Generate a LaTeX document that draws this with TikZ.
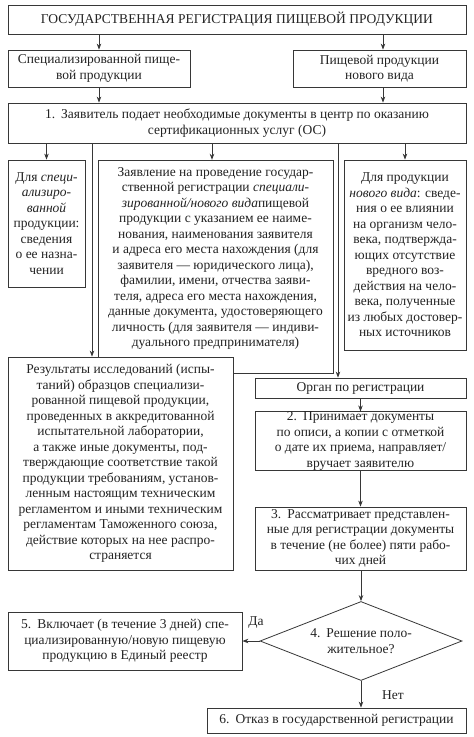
\documentclass[tikz,border=0pt]{standalone}
\usepackage{fontspec}
\setmainfont{Liberation Serif}
\usetikzlibrary{arrows.meta,shapes.geometric}
\definecolor{linec}{RGB}{55,55,55}
\definecolor{txtc}{RGB}{35,35,35}
\newcommand{\txtfont}{\fontsize{13.5}{15.5}\selectfont}
\begin{document}
\begin{tikzpicture}[x=1pt,y=-1pt,
  box/.style={draw=linec, line width=0.8pt, align=center, inner sep=0pt, text=txtc, font=\txtfont},
  plain/.style={align=center, inner sep=0pt, text=txtc, font=\txtfont},
  arr/.style={draw=linec, line width=0.8pt, -{Stealth[length=6pt,width=4.5pt]}},
  ln/.style={draw=linec, line width=0.8pt}]
\useasboundingbox (0,0) rectangle (474,737);
\fill[white] (0,0) rectangle (474,737);

% top
\node[box, minimum width=458, minimum height=29] (title) at (237,19.5) {ГОСУДАРСТВЕННАЯ РЕГИСТРАЦИЯ ПИЩЕВОЙ ПРОДУКЦИИ};
\node[box, minimum width=182, minimum height=37] (spec) at (99,68.5) {Специализированной пище-\\вой продукции};
\node[box, minimum width=173, minimum height=37] (newv) at (379.5,68.5) {Пищевой продукции\\нового вида};
\node[box, minimum width=458, minimum height=40] (box1) at (237,123) {1.\hspace{0.45em}Заявитель подает необходимые документы в центр по оказанию\\сертификационных услуг (ОС)};

% middle row
\node[box, minimum width=77, minimum height=127] (dspec) at (46.5,223.5) {Для \textit{специ-}\\\textit{ализиро-}\\\textit{ванной}\\продукции:\\сведения\\о ее назна-\\чении};
\draw[ln] (98,160) -- (333,160) -- (333,373) -- (233,373) -- (233,357) -- (98,357) -- cycle;
\node[plain, minimum width=235, minimum height=197] (zayav) at (215.5,258.5) {Заявление на проведение государ-\\ственной регистрации \textit{специали-}\\\textit{зированной/нового вида}пищевой\\продукции с указанием ее наиме-\\нования, наименования заявителя\\и адреса его места нахождения (для\\заявителя — юридического лица),\\фамилии, имени, отчества заяви-\\теля, адреса его места нахождения,\\данные документа, удостоверяющего\\личность (для заявителя — индиви-\\дуального предпринимателя)};
\node[box, minimum width=122, minimum height=190] (dnew) at (405,255) {Для продукции\\\textit{нового вида}: сведе-\\ния о ее влиянии\\на организм чело-\\века, подтвержда-\\ющих отсутствие\\вредного воз-\\действия на чело-\\века, полученные\\из любых достовер-\\ных источников};

% lower left
\node[box, minimum width=225, minimum height=213] (results) at (120.5,463.5) {Результаты исследований (испы-\\таний) образцов специализи-\\рованной пищевой продукции,\\проведенных в аккредитованной\\испытательной лаборатории,\\а также иные документы, под-\\тверждающие соответствие такой\\продукции требованиям, установ-\\ленным настоящим техническим\\регламентом и иными техническим\\регламентам Таможенного союза,\\действие которых на нее распро-\\страняется};

% lower right
\node[box, minimum width=211, minimum height=20] (organ) at (360.5,388) {Орган по регистрации};
\node[box, minimum width=211, minimum height=48] (b2) at (360.5,441) {2.\hspace{0.45em}Принимает документы\\по описи, а копии с отметкой\\о дате их приема, направляет/\\вручает заявителю};
\node[box, minimum width=211, minimum height=63] (b3) at (360.5,538.5) {3.\hspace{0.45em}Рассматривает представлен-\\ные для регистрации документы\\в течение (не более) пяти рабо-\\чих дней};
\node[draw=linec, line width=0.8pt, shape=diamond, aspect=2.5, align=center, inner sep=0pt, text=txtc, font=\txtfont, minimum width=202, minimum height=79] (dia) at (361,641) {4.\hspace{0.45em}Решение поло-\\жительное?};
\node[box, minimum width=234, minimum height=58] (b5) at (125,641) {5.\hspace{0.45em}Включает (в течение 3 дней) спе-\\циализированную/новую пищевую\\продукцию в Единый реестр};
\node[box, minimum width=259, minimum height=25] (b6) at (336.5,720.5) {6.\hspace{0.45em}Отказ в государственной регистрации};
\node[plain] (yes) at (256,623) {Да};
\node[plain] (no) at (393,695) {Нет};

% coordinates for connector x positions
\coordinate (xa) at (383,0);
\coordinate (xr) at (92,0);
\coordinate (xz) at (212,0);
\coordinate (xo) at (338,0);

% connectors
\draw[arr] (title.south -| spec) -- (spec.north);
\draw[arr] (title.south -| xa) -- (newv.north -| xa);
\draw[arr] (spec.south) -- (box1.north -| spec.south);
\draw[arr] (newv.south -| xa) -- (box1.north -| xa);
\draw[arr] (box1.south -| dspec) -- (dspec.north);
\draw[arr] (box1.south -| xr) -- (results.north -| xr);
\draw[arr] (box1.south -| xz) -- (zayav.north -| xz);
\draw[arr] (box1.south -| xo) -- (organ.north -| xo);
\draw[arr] (box1.south -| dnew) -- (dnew.north);
\draw[arr] (organ.south) -- (b2.north);
\draw[arr] (b2.south) -- (b3.north);
\draw[arr] (b3.south -| dia.north) -- (dia.north);
\draw[arr] (dia.west) -- (b5.east |- dia.west);
\draw[arr] (dia.south) -- (b6.north -| dia.south);
\end{tikzpicture}
\end{document}
